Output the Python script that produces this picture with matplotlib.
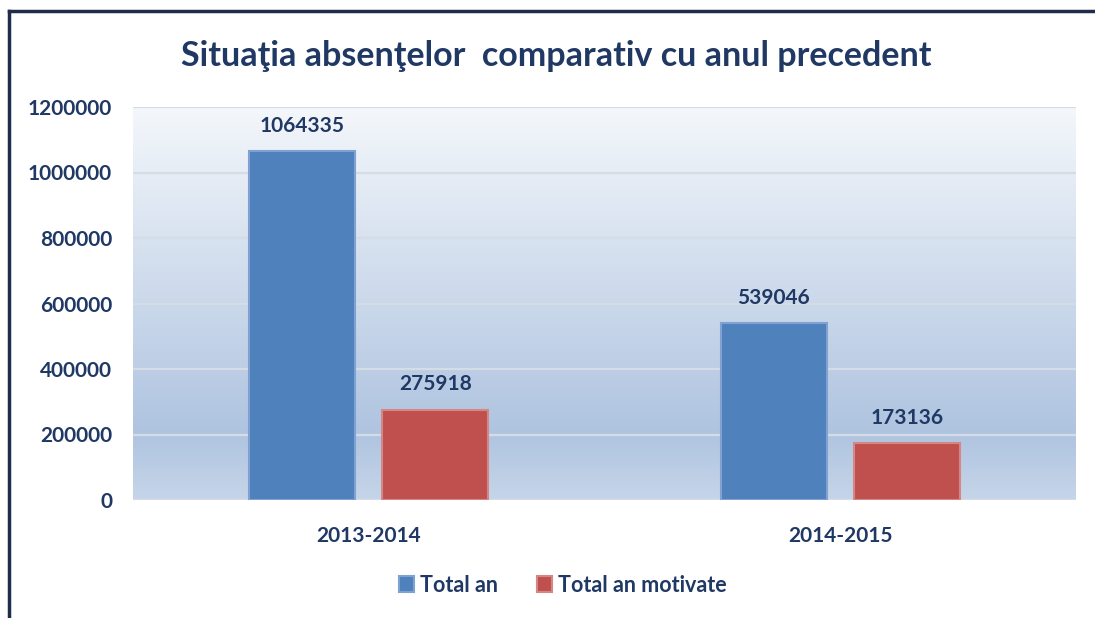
import matplotlib.pyplot as plt
import numpy as np
from matplotlib.lines import Line2D
from matplotlib.colors import LinearSegmentedColormap

# data
years = ["2013-2014", "2014-2015"]
total_an = [1064335, 539046]
total_motivate = [275918, 173136]
series_names = ["Total an", "Total an motivate"]
yticks = [0, 200000, 400000, 600000, 800000, 1000000, 1200000]

navy = "#1F3864"
blue = "#4F81BD"
red = "#C0504D"

plt.rcParams['font.family'] = ['Lato', 'DejaVu Sans']

fig = plt.figure(figsize=(10.95, 6.18), dpi=100)
ax = fig.add_axes([133/1095, 1 - 500/618, 943/1095, 393/618])

# gradient background of the plot area
grad = LinearSegmentedColormap.from_list(
    "bg", [(0.0, "#C6D5E9"), (0.17, "#AFC4E0"), (1.0, "#F4F7FB")])
ax.imshow(np.linspace(0, 1, 256).reshape(-1, 1), cmap=grad, origin="lower",
          aspect="auto", extent=[-0.5, 1.5, 0, 1200000], zorder=0)

x = np.arange(len(years))
w = 0.225
off = 0.141
b1 = ax.bar(x - off, total_an, w, color=blue, edgecolor="#7FA2D3",
            linewidth=1.5, label=series_names[0], zorder=3)
b2 = ax.bar(x + off, total_motivate, w, color=red, edgecolor="#D48885",
            linewidth=1.5, label=series_names[1], zorder=3)

for bars in (b1, b2):
    for r in bars:
        ax.annotate(str(int(r.get_height())),
                    (r.get_x() + r.get_width() / 2, r.get_height()),
                    xytext=(0, 11), textcoords="offset points",
                    ha="center", va="bottom", fontsize=15,
                    fontweight="bold", color=navy, zorder=4)

ax.set_xlim(-0.5, 1.5)
ax.set_ylim(0, 1200000)
ax.set_yticks(yticks)
ax.set_yticklabels([str(v) for v in yticks])
ax.set_xticks(x)
ax.set_xticklabels(years)
ax.yaxis.grid(True, color="#D5DCE5", linewidth=1.6, zorder=1)
ax.set_axisbelow(True)
for s in ax.spines.values():
    s.set_visible(False)
ax.tick_params(length=0, labelsize=15, labelcolor=navy)
ax.tick_params(axis="y", pad=15)
ax.tick_params(axis="x", pad=19)
for t in ax.get_xticklabels() + ax.get_yticklabels():
    t.set_fontweight("bold")

fig.text(0.508, 1 - 56/618, "Situaţia absenţelor  comparativ cu anul precedent",
         ha="center", va="center", fontsize=24.5, fontweight="bold", color=navy)

leg = fig.legend(handles=[b1, b2], labels=series_names, loc="center",
                 bbox_to_anchor=(0.514, 1 - 585/618), ncol=2, frameon=False,
                 handlelength=0.7, handleheight=0.7, handletextpad=0.3,
                 columnspacing=1.8, prop={"weight": "bold", "size": 15.5})
for t in leg.get_texts():
    t.set_color(navy)

# outer frame (left and top edges)
fig.add_artist(Line2D([9/1095, 9/1095], [0, 1 - 11/618], color="#1F2D4A", linewidth=2.5))
fig.add_artist(Line2D([9/1095, 1], [1 - 11/618, 1 - 11/618], color="#1F2D4A", linewidth=2.5))

fig.savefig("out.png", dpi=100)
